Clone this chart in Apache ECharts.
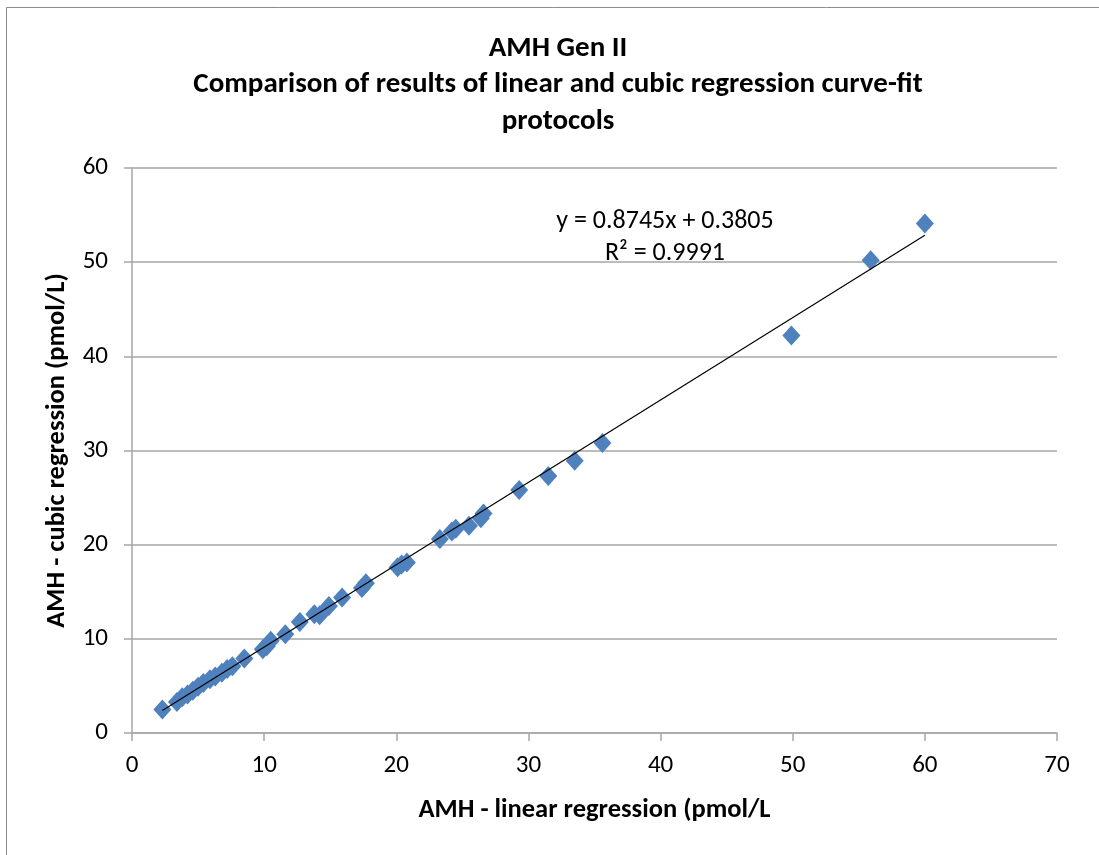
<!DOCTYPE html>
<html>
<head>
<meta charset="utf-8">
<script src="https://cdn.jsdelivr.net/npm/echarts@6/dist/echarts.min.js"></script>
<style>
  html, body { margin: 0; padding: 0; background: #fff; }
  #chart { width: 1099px; height: 855px; }
</style>
</head>
<body>
<div id="chart"></div>
<script>
// AMH - linear regression (x) vs cubic regression (y), pmol/L
const linearX = [2.3, 3.4, 3.8, 4.2, 4.6, 5.0, 5.4, 5.9, 6.3, 6.8, 7.2, 7.6, 8.5, 9.9, 10.2, 10.5, 11.6, 12.7, 13.8, 14.2, 14.9, 15.9, 17.4, 17.7, 20.1, 20.4, 20.8, 23.3, 24.2, 24.5, 25.5, 26.4, 26.6, 29.3, 31.5, 33.5, 35.6, 49.9, 55.9, 60.0]
const cubicY = [2.5, 3.3, 3.8, 4.1, 4.5, 4.9, 5.3, 5.7, 6.0, 6.4, 6.8, 7.1, 7.9, 8.9, 9.2, 9.8, 10.5, 11.8, 12.6, 12.5, 13.5, 14.4, 15.4, 15.9, 17.6, 17.9, 18.1, 20.6, 21.4, 21.7, 22.0, 22.8, 23.3, 25.8, 27.3, 28.9, 30.8, 42.2, 50.2, 54.1]
// trendline end points
const trendX = [2.3, 60.0]
const trendY = [2.39, 52.85]
const equationLines = ['y = 0.8745x + 0.3805', 'R² = 0.9991']

const font = 'Carlito, "Liberation Sans Narrow", "Liberation Sans", sans-serif'

const chart = echarts.init(document.getElementById('chart'))
chart.setOption({
  animation: false,
  backgroundColor: '#fff',
  textStyle: { fontFamily: font },
  title: {
    text: 'AMH Gen II\nComparison of results of linear and cubic regression curve-fit\nprotocols',
    left: 553,
    textAlign: 'center',
    top: 25,
    textStyle: {
      fontFamily: font,
      fontSize: 29,
      fontWeight: 'bold',
      color: '#000',
      lineHeight: 36.5
    }
  },
  graphic: [
    {
      type: 'rect',
      shape: { x: 6.5, y: 7.5, width: 1200, height: 1000 },
      style: { fill: 'none', stroke: '#8c8c8c', lineWidth: 1 },
      silent: true
    },
    {
      type: 'text',
      silent: true,
      style: {
        x: 665, y: 237,
        text: equationLines.join('\n'),
        align: 'center',
        verticalAlign: 'middle',
        fontFamily: font,
        fontSize: 26,
        lineHeight: 32,
        fill: '#000'
      }
    }
  ],
  grid: {
    left: 132,
    right: 42,
    top: 168,
    bottom: 122,
    containLabel: false
  },
  xAxis: {
    type: 'value',
    min: 0,
    max: 70,
    interval: 10,
    name: 'AMH - linear regression (pmol/L',
    nameLocation: 'middle',
    nameGap: 64,
    nameTextStyle: { fontFamily: font, fontSize: 26.5, fontWeight: 'bold', color: '#000' },
    axisLine: { show: true, lineStyle: { color: '#a6a6a6', width: 1.5 } },
    axisTick: { show: true, inside: false, length: 8, lineStyle: { color: '#a6a6a6', width: 1.5 } },
    axisLabel: { fontFamily: font, fontSize: 25, color: '#000', margin: 20 },
    splitLine: { show: false }
  },
  yAxis: {
    type: 'value',
    min: 0,
    max: 60,
    interval: 10,
    name: 'AMH - cubic regression (pmol/L)',
    nameLocation: 'middle',
    nameGap: 61,
    nameTextStyle: { fontFamily: font, fontSize: 26.5, fontWeight: 'bold', color: '#000' },
    axisLine: { show: true, lineStyle: { color: '#a6a6a6', width: 1.5 } },
    axisTick: { show: true, inside: false, length: 8, lineStyle: { color: '#a6a6a6', width: 1.5 } },
    axisLabel: { fontFamily: font, fontSize: 25, color: '#000', margin: 24 },
    splitLine: { show: true, lineStyle: { color: '#a6a6a6', width: 1.5 } }
  },
  series: [
    {
      name: 'AMH',
      type: 'scatter',
      symbol: 'diamond',
      symbolSize: [18, 20],
      itemStyle: { color: '#4f81bd', opacity: 1 },
      data: linearX.map((x, i) => [x, cubicY[i]])
    },
    {
      name: 'Linear (AMH)',
      type: 'line',
      symbol: 'none',
      z: 3,
      lineStyle: { color: '#000', width: 1.2 },
      data: trendX.map((x, i) => [x, trendY[i]])
    }
  ]
})
</script>
</body>
</html>
